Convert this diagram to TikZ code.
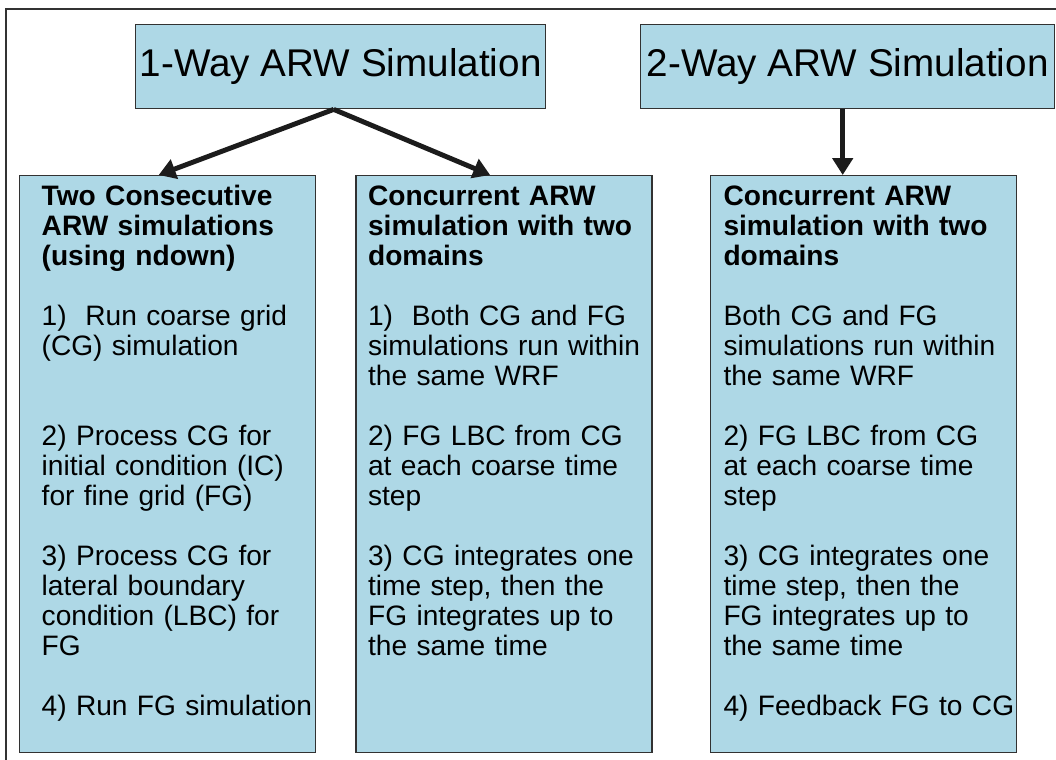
\documentclass[tikz,border=0pt]{standalone}
\usepackage{fontspec}
\setmainfont{Liberation Sans}
\usepackage{xcolor}
\usepackage{tikz}
\usetikzlibrary{arrows.meta, positioning}

\definecolor{boxfill}{RGB}{174,216,230}
\definecolor{boxline}{RGB}{50,50,50}
\definecolor{arrowcol}{RGB}{28,28,28}

\begin{document}
\begin{tikzpicture}[
        node distance=1cm,
        topbox/.style={rectangle, draw=boxline, line width=1pt, fill=boxfill, minimum height=2.1cm, inner sep=0pt, anchor=north west, font=\fontsize{27.5}{33}\selectfont},
        stepbox/.style={rectangle, draw=boxline, line width=1pt, fill=boxfill, align=left, anchor=north west, inner xsep=0.1cm, inner ysep=0pt, text height=0.75cm, text depth=13.675cm, font=\fontsize{20}{21.34}\selectfont},
        lskip/.style={execute at begin node={\leftskip=#1\rightskip=0pt plus 1fil minus 0.4cm}},
        arrow/.style={-{Triangle[length=0.42cm, width=0.5cm]}, line width=3.5pt, draw=arrowcol},
        pageframe/.style={draw=boxline, line width=1pt}
    ]
    \useasboundingbox (0,0) rectangle (26.4,-19);
    \draw[pageframe] (0.15,-19) |- (26.4,-0.225);

    \node[topbox, minimum width=10.25cm] (oneway) at (3.375,-0.6) {1-Way ARW Simulation};
    \node[topbox, minimum width=10.35cm] (twoway) at (16,-0.6) {2-Way ARW Simulation};

    \node[stepbox, text width=7.2cm, lskip=0.45cm] (ndown) at (0.475,-4.375) {%
        \textbf{Two Consecutive}\\
        \textbf{ARW simulations}\\
        \textbf{(using ndown)}\\[0.75cm]
        1)\ \ Run coarse grid\\
        (CG) simulation\\[1.5cm]
        2) Process CG for\\
        initial condition (IC)\\
        for fine grid (FG)\\[0.75cm]
        3) Process CG for\\
        lateral boundary\\
        condition (LBC) for\\
        FG\\[0.75cm]
        4) Run FG simulation};
    \node[stepbox, text width=7.2cm, lskip=0.2cm, right=0.975cm of ndown] (concone) {%
        \textbf{Concurrent ARW}\\
        \textbf{simulation with two}\\
        \textbf{domains}\\[0.75cm]
        1)\ \ Both CG and FG\\
        simulations run within\\
        the same WRF\\[0.75cm]
        2) FG LBC from CG\\
        at each coarse time\\
        step\\[0.75cm]
        3) CG integrates one\\
        time step, then the\\
        FG integrates up to\\
        the same time};
    \node[stepbox, text width=7.45cm, lskip=0.225cm, right=1.425cm of concone] (conctwo) {%
        \textbf{Concurrent ARW}\\
        \textbf{simulation with two}\\
        \textbf{domains}\\[0.75cm]
        Both CG and FG\\
        simulations run within\\
        the same WRF\\[0.75cm]
        2) FG LBC from CG\\
        at each coarse time\\
        step\\[0.75cm]
        3) CG integrates one\\
        time step, then the\\
        FG integrates up to\\
        the same time\\[0.75cm]
        4) Feedback FG to CG};

    \draw[arrow] ([xshift=-0.175cm]oneway.south) -- ([xshift=-0.225cm]ndown.north);
    \draw[arrow] ([xshift=-0.175cm]oneway.south) -- ([xshift=-0.35cm]concone.north);
    \coordinate (drop) at ([xshift=-0.125cm]twoway.south);
    \draw[arrow] (drop) -- (drop |- conctwo.north);

\end{tikzpicture}
\end{document}
